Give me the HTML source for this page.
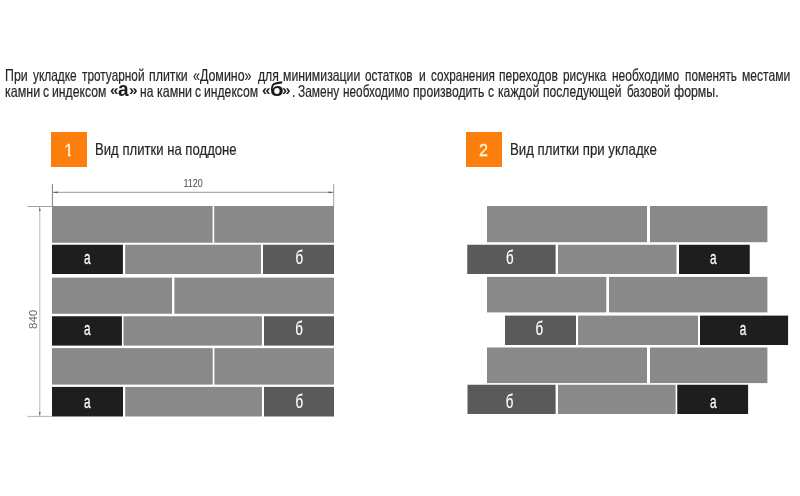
<!DOCTYPE html>
<html lang="ru"><head><meta charset="utf-8">
<style>
html,body{margin:0;padding:0;background:#fff;}
body{width:800px;height:496px;position:relative;overflow:hidden;font-family:"Liberation Sans",sans-serif;color:#262626;}
.t{position:absolute;white-space:pre;transform-origin:0 0;transform:scaleX(0.7318);font-size:16.5px;line-height:18px;-webkit-text-stroke:.2px #262626;}
.q{font-weight:bold;font-size:14.6px;transform:scaleX(1.05);-webkit-text-stroke:0;color:#222;}
.big{position:absolute;font-weight:bold;font-size:20.5px;line-height:24px;color:#1a1a1a;transform-origin:0 0;transform:scaleX(.93);}
.r{position:absolute;}
.ln{position:absolute;left:0;top:0;width:800px;height:0;}
.o{background:#fc7f0e;}
.n{position:absolute;color:#fff4dc;font-size:17px;line-height:20px;width:35px;text-align:center;transform:scaleX(.95);-webkit-text-stroke:.3px #fff4dc;}
.h{font-size:16.5px;line-height:20px;transform:scaleX(.795);}
</style></head><body>
<div class="ln">
<div class="t" style="left:4.97px;top:66.2px;transform:scaleX(0.7486);">При</div>
<div class="t" style="left:32.75px;top:66.2px;transform:scaleX(0.7208);">укладке</div>
<div class="t" style="left:82.28px;top:66.2px;transform:scaleX(0.7168);">тротуарной</div>
<div class="t" style="left:149.18px;top:66.2px;transform:scaleX(0.7480);">плитки</div>
<div class="t" style="left:193.22px;top:66.2px;transform:scaleX(0.7526);">«Домино»</div>
<div class="t" style="left:257.85px;top:66.2px;transform:scaleX(0.7398);">для</div>
<div class="t" style="left:283.43px;top:66.2px;transform:scaleX(0.7424);">минимизации</div>
<div class="t" style="left:365.20px;top:66.2px;transform:scaleX(0.7163);">остатков</div>
<div class="t" style="left:418.57px;top:66.2px;transform:scaleX(0.7300);">и</div>
<div class="t" style="left:431.00px;top:66.2px;transform:scaleX(0.7127);">сохранения</div>
<div class="t" style="left:499.20px;top:66.2px;transform:scaleX(0.7310);">переходов</div>
<div class="t" style="left:562.81px;top:66.2px;transform:scaleX(0.7144);">рисунка</div>
<div class="t" style="left:612.20px;top:66.2px;transform:scaleX(0.7258);">необходимо</div>
<div class="t" style="left:685.11px;top:66.2px;transform:scaleX(0.7141);">поменять</div>
<div class="t" style="left:742.19px;top:66.2px;transform:scaleX(0.7339);">местами</div>
</div>
<div class="ln">
<div class="t" style="left:4.77px;top:82.3px;transform:scaleX(0.7579);">камни</div>
<div class="t" style="left:42.57px;top:82.3px;transform:scaleX(0.7300);">с</div>
<div class="t" style="left:52.19px;top:82.3px;transform:scaleX(0.7398);">индексом</div>
<div class="t q" id="q1" style="left:109.9px;top:81.25px;">«</div>
<div class="big" id="ba" style="left:118.4px;top:77.2px;">а</div>
<div class="t q" id="q2" style="left:129.4px;top:81.25px;">»</div>
<div class="t" style="left:140.29px;top:82.3px;transform:scaleX(0.7300);">на</div>
<div class="t" style="left:156.67px;top:82.3px;transform:scaleX(0.7557);">камни</div>
<div class="t" style="left:194.75px;top:82.3px;transform:scaleX(0.7300);">с</div>
<div class="t" style="left:204.19px;top:82.3px;transform:scaleX(0.7377);">индексом</div>
<div class="t q" id="q3" style="left:262px;top:81.25px;">«</div>
<div class="big" id="bb" style="left:269.6px;top:77.2px;transform:scaleX(1.08);">б</div>
<div class="t q" id="q4" style="left:282.4px;top:81.25px;">»</div>
<div class="t" style="left:291.77px;top:82.3px;transform:scaleX(0.7300);">.</div>
<div class="t" style="left:297.64px;top:82.3px;transform:scaleX(0.7239);">Замену</div>
<div class="t" style="left:343.31px;top:82.3px;transform:scaleX(0.7148);">необходимо</div>
<div class="t" style="left:413.09px;top:82.3px;transform:scaleX(0.7392);">производить</div>
<div class="t" style="left:488.27px;top:82.3px;transform:scaleX(0.7300);">с</div>
<div class="t" style="left:498.44px;top:82.3px;transform:scaleX(0.7397);">каждой</div>
<div class="t" style="left:543.29px;top:82.3px;transform:scaleX(0.7342);">последующей</div>
<div class="t" style="left:627.20px;top:82.3px;transform:scaleX(0.7000);">базовой</div>
<div class="t" style="left:674.08px;top:82.3px;transform:scaleX(0.7461);">формы.</div>
</div>

<div class="r o" style="left:51.4px;top:131.9px;width:35.2px;height:34.7px;"></div>
<div class="n" style="left:64.3px;top:140.8px;width:auto;clip-path:polygon(0 0,100% 0,100% 62%,72% 62%,72% 100%,42% 100%,42% 62%,0 62%);">1</div>
<div class="t h" id="h1" style="left:95.1px;top:139.3px;">Вид плитки на поддоне</div>

<div class="r o" style="left:466.4px;top:131.9px;width:35.3px;height:34.7px;"></div>
<div class="n" style="left:466.4px;top:140.8px;">2</div>
<div class="t h" id="h2" style="left:510.3px;top:139.3px;transform:scaleX(.801);">Вид плитки при укладке</div>

<svg class="r" style="left:0;top:0" width="800" height="496" viewBox="0 0 800 496" font-family="Liberation Sans, sans-serif">
<rect x="52" y="206" width="160.6" height="36.75" fill="#898989"/>
<rect x="214.2" y="206" width="119.8" height="36.75" fill="#898989"/>
<rect x="52" y="244.75" width="70.9" height="29.25" fill="#1e1e1e"/>
<rect x="125.2" y="244.75" width="135.8" height="29.25" fill="#898989"/>
<rect x="263" y="244.75" width="71" height="29.25" fill="#5a5a5a"/>
<rect x="52" y="277.6" width="120" height="36.15" fill="#898989"/>
<rect x="174.4" y="277.6" width="159.6" height="36.15" fill="#898989"/>
<rect x="52" y="316.25" width="69.9" height="29.35" fill="#1e1e1e"/>
<rect x="123.5" y="316.25" width="138.4" height="29.35" fill="#898989"/>
<rect x="264" y="316.25" width="70" height="29.35" fill="#5a5a5a"/>
<rect x="52" y="348.1" width="160.7" height="36.5" fill="#898989"/>
<rect x="214.4" y="348.1" width="119.6" height="36.5" fill="#898989"/>
<rect x="52" y="386.9" width="71" height="29.6" fill="#1e1e1e"/>
<rect x="125.2" y="386.9" width="136.7" height="29.6" fill="#898989"/>
<rect x="264" y="386.9" width="70" height="29.6" fill="#5a5a5a"/>
<rect x="487" y="206" width="160" height="36.2" fill="#898989"/>
<rect x="650" y="206" width="117.4" height="36.2" fill="#898989"/>
<rect x="467.25" y="244.75" width="88.35" height="29.25" fill="#5a5a5a"/>
<rect x="558" y="244.75" width="118.5" height="29.25" fill="#898989"/>
<rect x="679" y="244.75" width="70.75" height="29.25" fill="#1e1e1e"/>
<rect x="487" y="276.9" width="119.3" height="35.5" fill="#898989"/>
<rect x="609" y="276.9" width="158.4" height="35.5" fill="#898989"/>
<rect x="505" y="315.6" width="71" height="29.4" fill="#5a5a5a"/>
<rect x="578.1" y="315.6" width="119.9" height="29.4" fill="#898989"/>
<rect x="700" y="315.6" width="88.1" height="29.4" fill="#1e1e1e"/>
<rect x="487" y="347.5" width="160" height="35.6" fill="#898989"/>
<rect x="650" y="347.5" width="117.4" height="35.6" fill="#898989"/>
<rect x="467.5" y="384.75" width="88.1" height="29.25" fill="#5a5a5a"/>
<rect x="558" y="384.75" width="117.6" height="29.25" fill="#898989"/>
<rect x="677.25" y="384.75" width="70.85" height="29.25" fill="#1e1e1e"/>
<g fill="none">
<line x1="52.4" y1="184" x2="52.4" y2="206" stroke="#444" stroke-width=".7"/>
<line x1="333.7" y1="184" x2="333.7" y2="206" stroke="#777" stroke-width=".7"/>
<line x1="52" y1="192.3" x2="334" y2="192.3" stroke="#8a8a8a" stroke-width=".9"/>
<line x1="27.5" y1="206.5" x2="52" y2="206.5" stroke="#777" stroke-width=".7"/>
<line x1="27.5" y1="416.4" x2="52" y2="416.4" stroke="#a0a0a0" stroke-width=".8"/>
<line x1="39.8" y1="207" x2="39.8" y2="416" stroke="#b0b0b0" stroke-width=".9"/>
</g>
<path d="M52.6 192.3l5-0.9v1.8zM333.5 192.3l-5-0.9v1.8zM39.8 207l-.8 4h1.6zM39.8 416l-.8-4h1.6z" fill="#555"/>
<g fill="#fff" stroke="#fff" stroke-width=".25" font-size="19" text-anchor="middle">
<text transform="translate(87.3 264) scale(.62 1)">а</text>
<text transform="translate(87.3 335.4) scale(.62 1)">а</text>
<text transform="translate(87.3 408.1) scale(.62 1)">а</text>
<text transform="translate(299.2 264) scale(.7 1)">б</text>
<text transform="translate(299.1 335.4) scale(.7 1)">б</text>
<text transform="translate(299.3 408.1) scale(.7 1)">б</text>
<text transform="translate(509.9 264) scale(.7 1)">б</text>
<text transform="translate(539.4 335.4) scale(.7 1)">б</text>
<text transform="translate(509.6 408.1) scale(.7 1)">б</text>
<text transform="translate(713.3 264) scale(.62 1)">а</text>
<text transform="translate(743 335.4) scale(.62 1)">а</text>
<text transform="translate(713.3 408.1) scale(.62 1)">а</text>
</g>
<g fill="#4a4a4a" font-size="11.8" text-anchor="middle">
<text transform="translate(193.1 187.1) scale(.76 1)">1120</text>
<text fill="#6a6a6a" transform="translate(37.3 319.4) rotate(-90) scale(.98 1)">840</text>
</g>
</svg>
</body></html>
